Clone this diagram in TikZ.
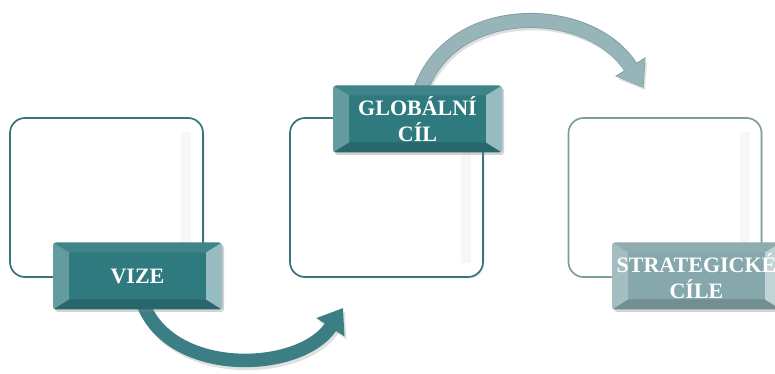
\documentclass[tikz,border=0pt]{standalone}
\usepackage{fontspec}
\setmainfont{Liberation Serif}
\usetikzlibrary{arrows.meta,shadows,calc}
\definecolor{tealA}{HTML}{2F7A7F}
\definecolor{tealArrow}{HTML}{3B7F85}
\definecolor{tealBorder}{HTML}{3A7479}
\definecolor{grayTeal}{HTML}{86A7AB}
\definecolor{grayArrow}{HTML}{97B4B8}
\definecolor{grayEdge}{HTML}{7C9DA1}
\definecolor{grayBorder}{HTML}{7E9DA1}
\tikzset{
  panel/.style={draw=#1, line width=1.7pt, rounded corners=15pt, fill=white,
    minimum width=193pt, minimum height=159pt, inner sep=0pt,
    drop shadow={shadow xshift=1.5pt, shadow yshift=-1.5pt, opacity=0.15},
    path picture={
      \fill[black!3, sharp corners] ([xshift=-22pt,yshift=-14pt]path picture bounding box.north east) rectangle ([xshift=-12pt,yshift=14pt]path picture bounding box.south east);
    }},
  bevel/.style={rectangle, rounded corners=3pt, fill=#1, text=white,
    minimum width=169pt, minimum height=67pt, inner sep=0pt, align=center,
    font=\bfseries\fontsize{22}{26}\selectfont,
    drop shadow={shadow xshift=2pt, shadow yshift=-2.5pt, opacity=0.35},
    path picture={
      \coordinate (ne) at (path picture bounding box.north east);
      \coordinate (nw) at (path picture bounding box.north west);
      \coordinate (se) at (path picture bounding box.south east);
      \coordinate (sw) at (path picture bounding box.south west);
      \fill[white, opacity=0.08, sharp corners] (nw) -- ([xshift=16pt,yshift=-10pt]nw) -- ([xshift=-16pt,yshift=-10pt]ne) -- (ne) -- cycle;
      \fill[black, opacity=0.15, sharp corners] (sw) -- ([xshift=16pt,yshift=10pt]sw) -- ([xshift=-16pt,yshift=10pt]se) -- (se) -- cycle;
      \fill[white, opacity=0.25, sharp corners] (nw) -- ([xshift=16pt,yshift=-10pt]nw) -- ([xshift=16pt,yshift=10pt]sw) -- (sw) -- cycle;
      \fill[white, opacity=0.5, sharp corners] (ne) -- ([xshift=-16pt,yshift=-10pt]ne) -- ([xshift=-16pt,yshift=10pt]se) -- (se) -- cycle;
    }},
  bend arrow/.style={line width=13.5pt, draw=#1, -{Triangle[width=32pt,length=23pt]}},
  arrow shadow/.style={line width=13.5pt, draw=black, opacity=0.12, -{Triangle[width=32pt,length=23pt]}}
}
\begin{document}
\begin{tikzpicture}[x=1pt,y=1pt]
  \useasboundingbox (0,0) rectangle (775,374);
  \clip (0,0) rectangle (775,374);
  % panels
  \node[panel=tealBorder] (box1) at (106.5,176.5) {};
  \node[panel=tealBorder] (box2) at (386.5,176.5) {};
  \node[panel=grayBorder] (box3) at (665,176.5) {};
  % arrows (drawn before labels)
  \coordinate (tip1) at (343,66);
  \coordinate (tip2) at (643,287);
  \coordinate (s1) at (141,76);
  \coordinate (s2) at (420,282);
  \draw[arrow shadow] ([shift={(2pt,-3pt)}]s1) .. controls (167,-7) and (302,-3) .. ([shift={(2pt,-3pt)}]tip1);
  \draw[bend arrow=tealArrow] (s1) .. controls (165,-4) and (300,0) .. (tip1);
  \draw[arrow shadow] ([shift={(2pt,-3pt)}]s2) .. controls (452,371) and (592,369) .. ([shift={(2pt,-3pt)}]tip2);
  \draw[line width=15pt, draw=grayEdge, -{Triangle[width=34pt,length=25pt]}] (s2) .. controls (450,374) and (590,372) .. ([shift={(0.6pt,-0.9pt)}]tip2);
  \draw[bend arrow=grayArrow] (s2) .. controls (450,374) and (590,372) .. (tip2);
  % labels
  \node[bevel=tealA] (vize) at (137.5,98) {VIZE};
  \node[bevel=tealA] (glob) at (417.5,255) {GLOBÁLNÍ\\CÍL};
  \node[bevel=grayTeal] (strat) at (696.5,98) {STRATEGICKÉ\\CÍLE};
\end{tikzpicture}
\end{document}
